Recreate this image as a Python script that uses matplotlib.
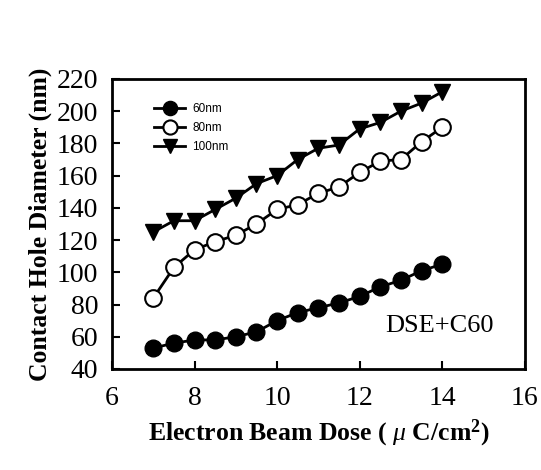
import numpy as np
import matplotlib
matplotlib.use("Agg")
import matplotlib.pyplot as plt

plt.rcParams['font.family'] = ['Liberation Serif', 'DejaVu Serif']
plt.rcParams['mathtext.fontset'] = 'custom'
plt.rcParams['mathtext.rm'] = 'Liberation Serif'
plt.rcParams['mathtext.bf'] = 'Liberation Serif:bold'
plt.rcParams['mathtext.it'] = 'Liberation Serif:italic'

dose = [7, 7.5, 8, 8.5, 9, 9.5, 10, 10.5, 11, 11.5, 12, 12.5, 13, 13.5, 14]
d60 = [53, 56, 58, 58, 60, 63, 70, 75, 78, 81, 85, 91, 95, 101, 105]
d80 = [84, 103, 114, 119, 123, 130, 139, 142, 149, 153, 162, 169, 170, 181, 190]
d100 = [125, 132, 132, 139, 146, 155, 160, 170, 177, 179, 189, 193, 200, 205, 212]

fig = plt.figure(figsize=(5.41, 4.70), dpi=100)
ax = fig.add_axes([0.207, 0.215, 0.763, 0.617])

ax.plot(dose, d60, "k-", marker="o", ms=12, mfc="k", mec="k", lw=2, label="60nm")
ax.plot(dose, d80, "k-", marker="o", ms=12, mfc="w", mec="k", mew=1.5, lw=2, label="80nm")
ax.plot(dose, d100, "k-", marker="v", ms=12, mfc="k", mec="k", lw=2, label="100nm")

ax.set_xlim(6, 16)
ax.set_ylim(40, 220)
ax.set_xticks([6, 8, 10, 12, 14, 16])
ax.set_yticks(np.arange(40, 221, 20))
ax.tick_params(direction="in", width=1.5, length=6, labelsize=20, pad=10)
ax.tick_params(axis="x", top=False, pad=12)
for s in ax.spines.values():
    s.set_linewidth(2)

ax.set_ylabel("Contact Hole Diameter (nm)", fontsize=18.5, fontweight="bold", labelpad=3)
ax.set_xlabel(r"Electron Beam Dose ( $\mu$ C/cm$^{\mathbf{2}}$)", fontsize=18.5,
              fontweight="bold", labelpad=5)

ax.text(13.94, 66.5, "DSE+C60", fontsize=19, ha="center", va="center")

leg = ax.legend(loc="upper left", bbox_to_anchor=(0.075, 0.955), frameon=False,
                prop={"family": "Liberation Sans", "size": 8.5},
                markerscale=0.85, handlelength=2.7, labelspacing=0.6,
                handletextpad=0.6)

fig.savefig("out.png", dpi=100)
